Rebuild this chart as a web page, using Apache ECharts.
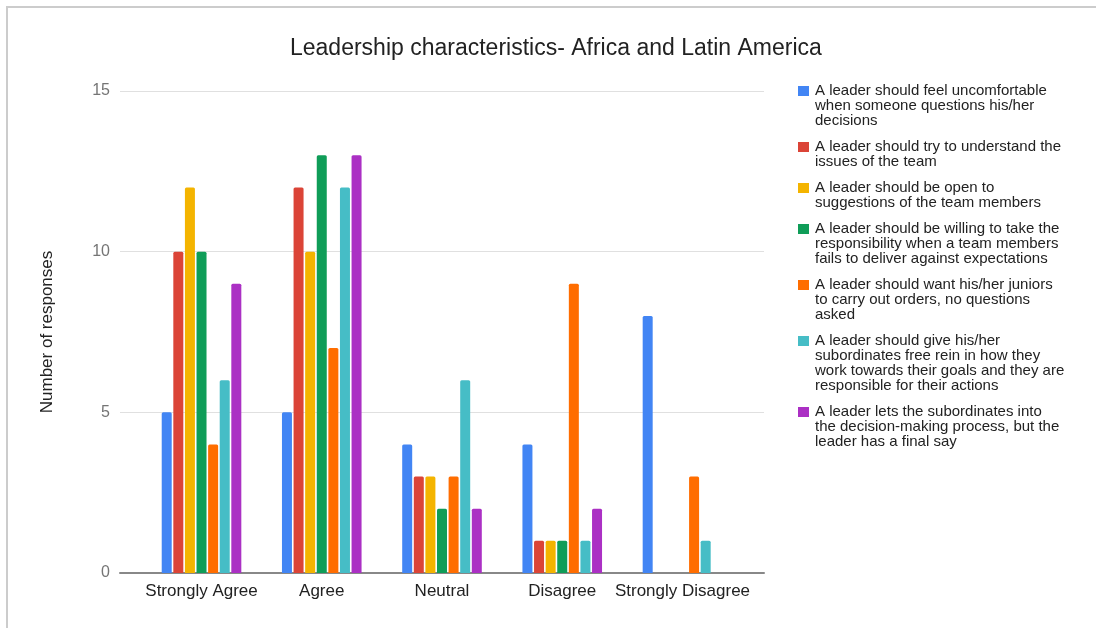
<!DOCTYPE html>
<html>
<head>
<meta charset="utf-8">
<title>Leadership characteristics- Africa and Latin America</title>
<script src="https://cdn.jsdelivr.net/npm/echarts@6/dist/echarts.min.js"></script>
<style>
  html, body { margin: 0; padding: 0; background: #ffffff; }
  #chart { width: 1096px; height: 628px; }
</style>
</head>
<body>
<div id="chart"></div>
<script>
// Response categories along the x axis
const categories = ['Strongly Agree', 'Agree', 'Neutral', 'Disagree', 'Strongly Disagree'];

// One statement per series
const seriesNames = [
  'A leader should feel uncomfortable when someone questions his/her decisions',
  'A leader should try to understand the issues of the team',
  'A leader should be open to suggestions of the team members',
  'A leader should be willing to take the responsibility when a team members fails to deliver against expectations',
  'A leader should want his/her juniors to carry out orders, no questions asked',
  'A leader should give his/her subordinates free rein in how they work towards their goals and they are responsible for their actions',
  'A leader lets the subordinates into the decision-making process, but the leader has a final say'
];

// Legend text, wrapped line by line
const legendLines = [
  ['A leader should feel uncomfortable', 'when someone questions his/her', 'decisions'],
  ['A leader should try to understand the', 'issues of the team'],
  ['A leader should be open to', 'suggestions of the team members'],
  ['A leader should be willing to take the', 'responsibility when a team members', 'fails to deliver against expectations'],
  ['A leader should want his/her juniors', 'to carry out orders, no questions', 'asked'],
  ['A leader should give his/her', 'subordinates free rein in how they', 'work towards their goals and they are', 'responsible for their actions'],
  ['A leader lets the subordinates into', 'the decision-making process, but the', 'leader has a final say']
];

// Number of responses per category, one array per statement
const uncomfortable      = [5, 5, 4, 4, 8];
const understandIssues   = [10, 12, 3, 1, 0];
const openToSuggestions  = [12, 10, 3, 1, 0];
const takeResponsibility = [10, 13, 2, 1, 0];
const obeyOrders         = [4, 7, 3, 9, 3];
const freeRein           = [6, 12, 6, 1, 1];
const finalSay           = [9, 13, 2, 2, 0];

const seriesValues = [uncomfortable, understandIssues, openToSuggestions, takeResponsibility,
                      obeyOrders, freeRein, finalSay];

// Value axis range and tick step
const yMin = 0;
const yMax = 15;
const yStep = 5;

const palette = ['#4285F4', '#DB4437', '#F4B400', '#0F9D58', '#FF6D00', '#46BDC6', '#AB30C4'];

const FONT = '"Liberation Sans", Arial, sans-serif';
const LEGEND_LINE = 15;
const LEGEND_FONT = 15;

// Rich-text styles for the legend: a coloured swatch on the first line,
// a matching indent on the following lines
const legendRich = {
  t: { fontFamily: FONT, fontSize: LEGEND_FONT, lineHeight: LEGEND_LINE, color: '#222222' },
  gap: { width: 6, height: 10 },
  pad: { width: 17, height: 10 }
};
palette.forEach((c, i) => {
  legendRich['sq' + i] = { width: 11, height: 10, backgroundColor: c };
});

function legendLabel(name) {
  const i = seriesNames.indexOf(name);
  return legendLines[i].map((line, k) =>
    (k === 0 ? '{sq' + i + '|}{gap|}' : '{pad|}') + '{t|' + line + '}'
  ).join('\n');
}

const chart = echarts.init(document.getElementById('chart'), null, { renderer: 'canvas' });

const option = {
  backgroundColor: '#ffffff',
  animation: false,
  color: palette,
  textStyle: { fontFamily: FONT },
  title: {
    text: 'Leadership characteristics- Africa and Latin America',
    left: 290,
    top: 37,
    padding: 0,
    textStyle: { fontFamily: FONT, fontSize: 23, fontWeight: 'normal', color: '#222222' }
  },
  legend: {
    orient: 'vertical',
    left: 793,
    top: 83.5,
    padding: 0,
    icon: 'none',
    itemWidth: 0,
    itemHeight: 10,
    itemGap: 11,
    selectedMode: false,
    data: seriesNames,
    formatter: legendLabel,
    textStyle: {
      fontFamily: FONT, fontSize: LEGEND_FONT, lineHeight: LEGEND_LINE, color: '#222222',
      rich: legendRich
    }
  },
  graphic: [{
    type: 'polyline',
    silent: true,
    shape: { points: [[7, 628], [7, 7], [1096, 7]] },
    style: { stroke: '#cccccc', lineWidth: 2, fill: null }
  }],
  grid: [
    // frame grid: gridlines, baseline and value labels
    { left: 120, right: 332, top: 91, bottom: 55, outerBoundsMode: 'none' },
    // bar grid, inset inside the frame
    { left: 141.4, right: 353.4, top: 91, bottom: 55, outerBoundsMode: 'none' }
  ],
  xAxis: [
    {
      type: 'value', gridIndex: 0, min: 0, max: 1,
      axisLine: { show: true, lineStyle: { color: '#888888', width: 2 } },
      axisTick: { show: false },
      axisLabel: { show: false },
      splitLine: { show: false }
    },
    {
      type: 'category', gridIndex: 1, data: categories,
      axisLine: { show: false },
      axisTick: { show: false },
      axisLabel: { interval: 0, fontFamily: FONT, fontSize: 17, color: '#222222', margin: 10 },
      splitLine: { show: false }
    }
  ],
  yAxis: [
    {
      type: 'value', gridIndex: 0, min: yMin, max: yMax, interval: yStep,
      name: 'Number of responses',
      nameLocation: 'middle',
      nameRotate: 90,
      nameGap: 64,
      nameTextStyle: { fontFamily: FONT, fontSize: 17, color: '#222222' },
      axisLine: { show: false },
      axisTick: { show: false },
      axisLabel: { fontFamily: FONT, fontSize: 16, color: '#757575', margin: 10 },
      splitLine: { show: true, lineStyle: { color: '#e0e0e0', width: 1 } }
    },
    {
      type: 'value', gridIndex: 1, min: yMin, max: yMax, interval: yStep,
      show: false,
      splitLine: { show: false }
    }
  ],
  series: seriesNames.map((name, i) => ({
    name: name,
    type: 'bar',
    xAxisIndex: 1,
    yAxisIndex: 1,
    data: seriesValues[i],
    barWidth: 10,
    barGap: '16%',
    itemStyle: { color: palette[i], borderRadius: [1.5, 1.5, 0, 0] }
  }))
};

chart.setOption(option);
</script>
</body>
</html>
